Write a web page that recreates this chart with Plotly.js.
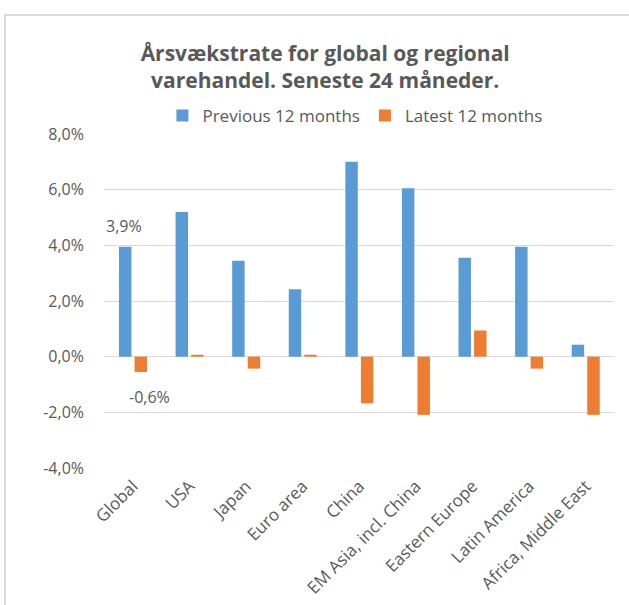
<!DOCTYPE html>
<html>
<head>
<meta charset="utf-8">
<script src="https://cdn.plot.ly/plotly-3.0.1.min.js"></script>
<style>
  html, body { margin: 0; padding: 0; background: #fff; }
  #chart { width: 629px; height: 605px; }
</style>
</head>
<body>
<div id="chart"></div>
<script>
const categories = ["Global", "USA", "Japan", "Euro area", "China", "EM Asia, incl. China", "Eastern Europe", "Latin America", "Africa, Middle East"];
const previous12 = [3.95, 5.2, 3.45, 2.42, 7.0, 6.05, 3.55, 3.95, 0.43];
const latest12 = [-0.55, 0.07, -0.43, 0.07, -1.68, -2.09, 0.94, -0.43, -2.09];
const seriesNames = ["Previous 12 months", "Latest 12 months"];
const tickVals = [-4, -2, 0, 2, 4, 6, 8];
const tickLabels = ["-4,0%", "-2,0%", "0,0%", "2,0%", "4,0%", "6,0%", "8,0%"];
const globalLabels = ["3,9%", "-0,6%"];

const font = "'Open Sans', 'Noto Sans', sans-serif";
const grey = "#595959";

const traces = [
  { type: "bar", name: seriesNames[0], x: categories, y: previous12, marker: { color: "#5b9bd5" }, hoverinfo: "x+y" },
  { type: "bar", name: seriesNames[1], x: categories, y: latest12, marker: { color: "#ed7d31" }, hoverinfo: "x+y" }
];

const layout = {
  width: 629, height: 605,
  paper_bgcolor: "#fff", plot_bgcolor: "#fff",
  font: { family: font, color: grey, size: 16 },
  margin: { l: 104, r: 15, t: 134, b: 137 },
  title: {
    text: "<b>Årsvækstrate for global og regional<br>varehandel. Seneste 24 måneder.</b>",
    font: { family: font, size: 21, color: grey },
    x: 0.517, xanchor: "center", xref: "container",
    y: 0.899, yanchor: "middle", yref: "container"
  },
  barmode: "group",
  bargap: 0.45,
  bargroupgap: 0.2,
  showlegend: true,
  legend: {
    orientation: "h", x: 0.492, xanchor: "center", y: 1.054, yanchor: "middle",
    font: { family: font, size: 17, color: grey }, traceorder: "normal",
    itemwidth: 30
  },
  xaxis: {
    type: "category", tickangle: -45, showgrid: false, showline: false, ticks: "",
    ticklabelstandoff: 4,
    tickfont: { family: font, size: 17, color: grey }, fixedrange: true
  },
  yaxis: {
    range: [-4, 8], tickvals: tickVals, ticktext: tickLabels,
    showgrid: true, gridcolor: "#d9d9d9", gridwidth: 1,
    zeroline: true, zerolinecolor: "#d9d9d9", zerolinewidth: 1,
    showline: false, ticks: "", ticklabelstandoff: 19,
    tickfont: { family: font, size: 16, color: grey }, fixedrange: true
  },
  annotations: [
    { x: categories[0], y: previous12[0], xref: "x", yref: "y", text: globalLabels[0], showarrow: false,
      yanchor: "middle", yshift: 21, xshift: -9, font: { family: font, size: 16, color: grey } },
    { x: categories[0], y: latest12[0], xref: "x", yref: "y", text: globalLabels[1], showarrow: false,
      yanchor: "middle", yshift: -25, xshift: 16, font: { family: font, size: 16, color: grey } }
  ],
  shapes: [
    { type: "rect", xref: "paper", yref: "paper",
      x0: (5 - 104) / 510, x1: (640 - 104) / 510,
      y0: (468 - 620) / 334, y1: (468 - 15) / 334,
      line: { color: "#d9d9d9", width: 2 }, fillcolor: "rgba(0,0,0,0)", layer: "below" }
  ]
};

Plotly.newPlot("chart", traces, layout, { displayModeBar: false, staticPlot: true });
</script>
</body>
</html>
